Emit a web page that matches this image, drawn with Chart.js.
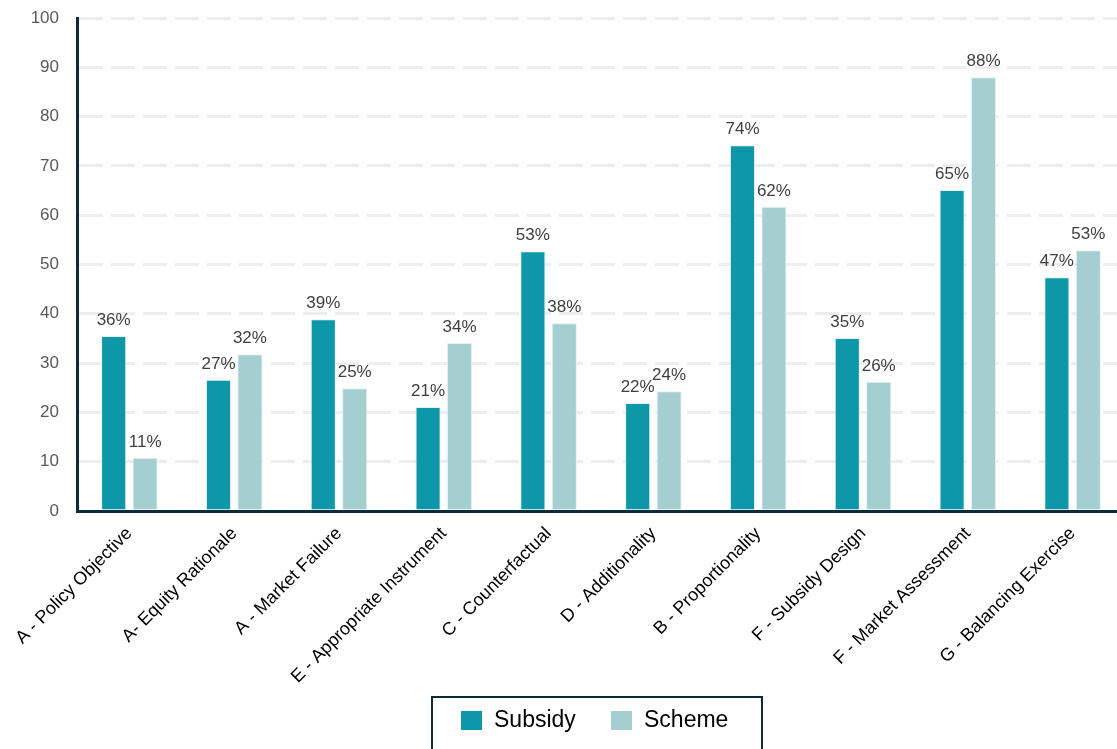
<!DOCTYPE html>
<html><head><meta charset="utf-8">
<script src="https://cdn.jsdelivr.net/npm/chart.js@4.4.1/dist/chart.umd.min.js"></script>
<style>html,body{margin:0;padding:0;background:#fff;overflow:hidden}#wrap{width:1117px;height:749px;position:relative;overflow:hidden}canvas{display:block}</style>
</head><body><div id="wrap"><canvas id="c" width="1125" height="749"></canvas></div>
<script>
const categories = ["A - Policy Objective","A- Equity Rationale","A - Market Failure","E - Appropriate Instrument","C - Counterfactual","D - Additionality","B - Proportionality","F - Subsidy Design","F - Market Assessment","G - Balancing Exercise"];
const subsidyValues = [35.5, 26.6, 38.9, 21.1, 52.7, 21.9, 74.2, 35.1, 65.1, 47.4];
const schemeValues = [10.8, 31.8, 24.9, 34.1, 38.1, 24.3, 61.7, 26.2, 88.0, 52.9];
const seriesNames = ["Subsidy", "Scheme"];
const yTicks = [0,10,20,30,40,50,60,70,80,90,100];

const FONT = "'Liberation Sans', Arial, sans-serif";

const labelPlugin = {
  id: 'valueLabels',
  afterDatasetsDraw(chart) {
    const ctx = chart.ctx;
    ctx.save();
    ctx.font = "17px " + FONT;
    ctx.fillStyle = "#404040";
    ctx.textAlign = "center";
    ctx.textBaseline = "alphabetic";
    chart.data.datasets.forEach((ds, di) => {
      const meta = chart.getDatasetMeta(di);
      meta.data.forEach((bar, i) => {
        ctx.fillText(Math.round(ds.data[i]) + "%", bar.x, bar.y - 11);
      });
    });
    ctx.restore();
  }
};

const legendPlugin = {
  id: 'boxLegend',
  afterDraw(chart) {
    const ctx = chart.ctx;
    ctx.save();
    const bx = 432, by = 697, bw = 330, bh = 60;
    ctx.strokeStyle = "#0F2B3A";
    ctx.lineWidth = 2;
    ctx.strokeRect(bx, by, bw, bh);
    ctx.font = "23px " + FONT;
    ctx.textBaseline = "middle";
    const xs = [461, 611];
    chart.data.datasets.forEach((ds, i) => {
      const x = xs[i];
      ctx.fillStyle = ds.backgroundColor;
      ctx.fillRect(x, 711, 21, 19);
      ctx.fillStyle = "#000";
      ctx.textAlign = "left";
      ctx.fillText(ds.label, x + 33, 721);
    });
    ctx.restore();
  }
};

new Chart(document.getElementById('c'), {
  type: 'bar',
  data: {
    labels: categories,
    datasets: [
      { label: seriesNames[0], data: subsidyValues, backgroundColor: "#0E97A8", borderColor: "#E3F2F3", borderWidth: 1, categoryPercentage: 0.6, barPercentage: 0.8 },
      { label: seriesNames[1], data: schemeValues, backgroundColor: "#A4CED0", borderColor: "#E3F2F3", borderWidth: 1, categoryPercentage: 0.6, barPercentage: 0.8 }
    ]
  },
  options: {
    responsive: false,
    animation: false,
    layout: { padding: { top: 18, right: 0, left: 0, bottom: 0 } },
    plugins: { legend: { display: false }, tooltip: { enabled: false } },
    scales: {
      x: {
        grid: { display: false },
        border: { color: "#0F2B3A", width: 3 },
        ticks: { color: "#000", font: { family: FONT, size: 18 }, minRotation: 45, maxRotation: 45, padding: 4 },
        afterFit(s) { s.height = 238; }
      },
      y: {
        min: 0, max: 100,
        afterBuildTicks(s) { s.ticks = yTicks.map(v => ({ value: v })); },
        grid: { color: "#EEEEEE", lineWidth: 3, drawTicks: true, tickLength: 16, tickColor: "rgba(0,0,0,0)" },
        border: { color: "#0F2B3A", width: 3, dash: [24, 8] },
        ticks: { color: "#595959", font: { family: FONT, size: 17 }, padding: 2 },
        afterFit(s) { s.width = 77; }
      }
    }
  },
  plugins: [labelPlugin, legendPlugin]
});
</script>
</body></html>
